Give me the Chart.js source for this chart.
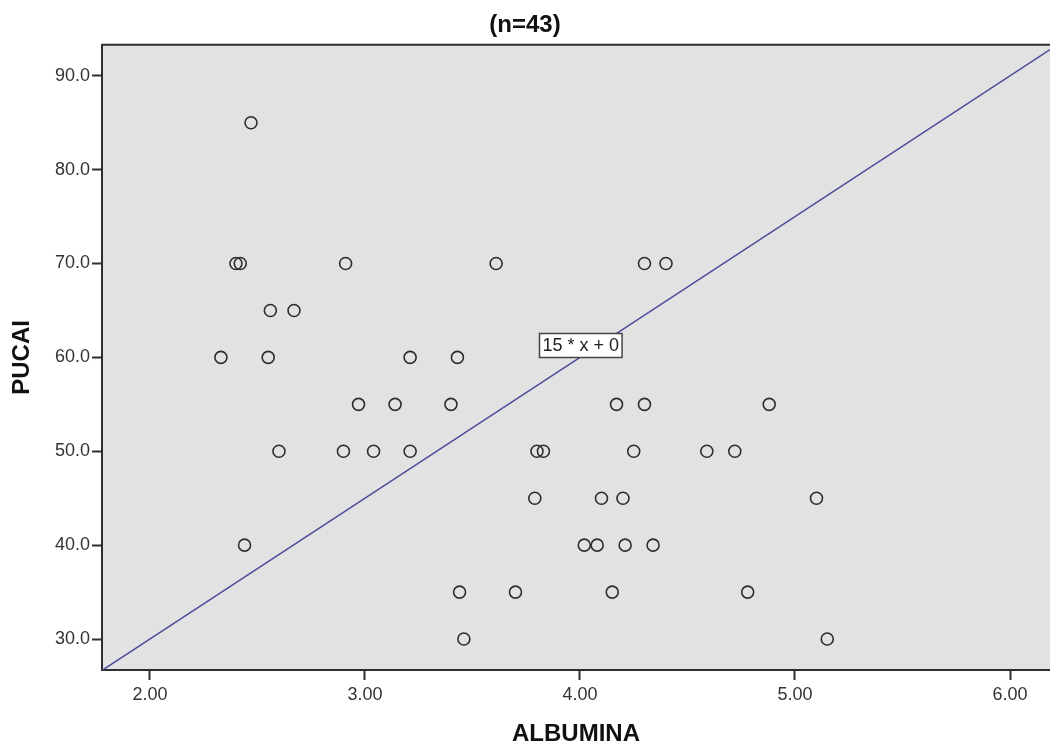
<!DOCTYPE html>
<html>
<head>
<meta charset="utf-8">
<title>PUCAI vs ALBUMINA</title>
<script src="https://cdn.jsdelivr.net/npm/chart.js@4.4.1/dist/chart.umd.min.js"></script>
<style>
  html, body { margin: 0; padding: 0; background: #fff; }
  #wrap { width: 1050px; height: 752px; position: relative; }
</style>
</head>
<body>
<div id="wrap"><canvas id="scatterCanvas"></canvas></div>
<script>
// ---- data ----
const albumina = [
  2.47,
  2.40, 2.42, 2.91, 3.61, 4.30, 4.40,
  2.56, 2.67,
  2.33, 2.55, 3.21, 3.43,
  2.97, 3.14, 3.40, 4.17, 4.30, 4.88,
  2.60, 2.90, 3.04, 3.21, 3.80, 3.83, 4.25, 4.59, 4.72,
  3.79, 4.10, 4.20, 5.10,
  2.44, 4.02, 4.08, 4.21, 4.34,
  3.44, 3.70, 4.15, 4.78,
  3.46, 5.15
];
const pucai = [
  85,
  70, 70, 70, 70, 70, 70,
  65, 65,
  60, 60, 60, 60,
  55, 55, 55, 55, 55, 55,
  50, 50, 50, 50, 50, 50, 50, 50, 50,
  45, 45, 45, 45,
  40, 40, 40, 40, 40,
  35, 35, 35, 35,
  30, 30
];
const xTicks = [2, 3, 4, 5, 6];
const yTicks = [30, 40, 50, 60, 70, 80, 90];
const xRange = [1.777, 6.186];
const yRange = [26.7, 93.3];

// reference line y = 15 * x + 0
const lineSlope = 15;
const lineIntercept = 0;
const lineLabel = '15 * x + 0';
const labelAtX = 4.0;

const points = albumina.map((a, i) => ({ x: a, y: pucai[i] }));
const refLine = xRange.map(x => ({ x: x, y: lineSlope * x + lineIntercept }));

const FONT = '"Liberation Sans", Arial, sans-serif';
const DARK = '#2e2e2e';

// grey plot background + top border
const plotBg = {
  id: 'plotBg',
  beforeDraw(chart) {
    const { ctx, chartArea: a } = chart;
    ctx.save();
    ctx.fillStyle = '#e2e2e2';
    ctx.fillRect(a.left, a.top, a.right - a.left, a.bottom - a.top);
    ctx.restore();
  },
  afterDraw(chart) {
    const { ctx, chartArea: a } = chart;
    ctx.save();
    ctx.strokeStyle = DARK;
    ctx.lineWidth = 2;
    ctx.beginPath();
    ctx.moveTo(a.left, a.top);
    ctx.lineTo(a.right, a.top);
    ctx.stroke();
    ctx.restore();
  }
};

// the "15 * x + 0" box sitting on the line
const lineTag = {
  id: 'lineTag',
  afterDatasetsDraw(chart) {
    const { ctx, scales } = chart;
    const px = scales.x.getPixelForValue(labelAtX);
    const py = scales.y.getPixelForValue(lineSlope * labelAtX + lineIntercept);
    ctx.save();
    ctx.font = '18px ' + FONT;
    const w = ctx.measureText(lineLabel).width + 6;
    const h = 24;
    const left = Math.round(px - w / 2) + 0.5;
    const top = Math.round(py - h) + 0.5;
    ctx.fillStyle = '#fff';
    ctx.fillRect(left, top, w, h);
    ctx.strokeStyle = '#444';
    ctx.lineWidth = 1.5;
    ctx.strokeRect(left, top, w, h);
    ctx.fillStyle = '#222';
    ctx.textAlign = 'center';
    ctx.textBaseline = 'middle';
    ctx.fillText(lineLabel, left + w / 2, top + h / 2 + 1);
    ctx.restore();
  }
};

const canvas = document.getElementById('scatterCanvas');
const chart = new Chart(canvas.getContext('2d'), {
  type: 'scatter',
  data: {
    datasets: [
      {
        type: 'line',
        label: 'fit',
        data: refLine,
        borderColor: '#4d4d9c',
        borderWidth: 1.5,
        pointRadius: 0,
        fill: false,
        order: 2
      },
      {
        label: 'PUCAI',
        data: points,
        pointRadius: 6,
        pointBorderWidth: 1.6,
        pointBorderColor: DARK,
        pointBackgroundColor: 'rgba(0,0,0,0)',
        order: 1
      }
    ]
  },
  options: {
    responsive: true,
    maintainAspectRatio: false,
    animation: false,
    layout: { autoPadding: false, padding: { left: 0, right: 0, top: 0, bottom: 0 } },
    plugins: {
      legend: { display: false },
      tooltip: { enabled: false },
      title: {
        display: true,
        text: '(n=43)',
        color: '#111',
        font: { family: FONT, size: 24, weight: 'bold' },
        padding: { top: 11, bottom: 5 }
      }
    },
    scales: {
      x: {
        type: 'linear',
        min: xRange[0],
        max: xRange[1],
        afterBuildTicks: s => { s.ticks = xTicks.map(v => ({ value: v })); },
        afterFit: s => { s.height = 82; s.paddingLeft = 0; s.paddingRight = 0; },
        grid: { drawOnChartArea: false, drawTicks: true, tickLength: 10, tickWidth: 2, tickColor: DARK },
        border: { display: true, color: DARK, width: 2 },
        ticks: {
          padding: 4,
          color: '#333',
          font: { family: FONT, size: 18 },
          callback: v => Number(v).toFixed(2)
        },
        title: {
          display: true,
          text: 'ALBUMINA',
          color: '#111',
          font: { family: FONT, size: 24, weight: 'bold' },
          padding: { top: 0, bottom: 3 }
        }
      },
      y: {
        type: 'linear',
        min: yRange[0],
        max: yRange[1],
        afterBuildTicks: s => { s.ticks = yTicks.map(v => ({ value: v })); },
        afterFit: s => { s.width = 102; s.paddingTop = 0; s.paddingBottom = 0; },
        grid: { drawOnChartArea: false, drawTicks: true, tickLength: 10, tickWidth: 2, tickColor: DARK },
        border: { display: true, color: DARK, width: 2 },
        ticks: {
          padding: 2,
          color: '#333',
          font: { family: FONT, size: 18 },
          callback: v => Number(v).toFixed(1)
        },
        title: {
          display: true,
          text: 'PUCAI',
          color: '#111',
          font: { family: FONT, size: 24, weight: 'bold' },
          padding: { top: 8, bottom: 0 }
        }
      }
    }
  },
  plugins: [plotBg, lineTag]
});
</script>
</body>
</html>
